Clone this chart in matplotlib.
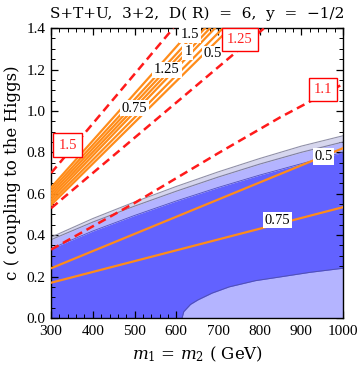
import matplotlib

matplotlib.use("Agg")

import matplotlib.pyplot as plt
from matplotlib.ticker import MultipleLocator

plt.rcParams["font.family"] = ["Liberation Serif", "DejaVu Serif"]
plt.rcParams["mathtext.fontset"] = "dejavuserif"

# allowed-region bands (m in GeV, c)
band_m = [300, 400, 500, 600, 700, 800, 900, 1000]
band_outer = [0.39, 0.48, 0.56, 0.635, 0.705, 0.77, 0.83, 0.88]
band_mid = [0.378, 0.463, 0.54, 0.612, 0.68, 0.743, 0.80, 0.85]
band_dark = [0.335, 0.42, 0.495, 0.565, 0.63, 0.69, 0.745, 0.80]

# light region at bottom right
corner_c = [0.0, 0.03, 0.065, 0.087, 0.12, 0.15, 0.18, 0.198, 0.22, 0.24]
corner_m = [614, 618, 634, 652, 686, 727, 790, 849, 920, 1000]

# red dashed contours
red_levels = ["1.5", "1.25", "1.1"]
red_m = [[300, 593], [300, 741, 811], [300, 500, 700, 850, 1000]]
red_c = [[0.70, 1.40], [0.53, 1.28, 1.40], [0.33, 0.555, 0.795, 0.97, 1.13]]
red_label_pos = [(340, 0.835), (752, 1.345), (952, 1.105)]

# orange contour bundle
orange_c0 = [0.63, 0.616, 0.602, 0.588, 0.574, 0.56, 0.546]
orange_mtop = [640, 657, 669, 681, 693, 712, 729]
orange_labels = ["1.5", "0.75", "1.25", "1", "0.5"]
orange_label_pos = [(633, 1.367), (499, 1.014), (578, 1.198), (628, 1.285), (688, 1.275)]

# orange contours in the blue region
low_m = [300, 1000]
low_c = [[0.24, 0.82], [0.17, 0.535]]
low_labels = ["0.5", "0.75"]
low_label_pos = [(953, 0.78), (842, 0.473)]

fig = plt.figure(figsize=(3.6, 3.65), dpi=100)
ax = fig.add_axes([0.142, 0.129, 0.811, 0.794])

orange = "#ff8c1a"
ax.fill_between(band_m, band_mid, band_outer, color="#d6d6ee", lw=0, zorder=1)
ax.fill_between(band_m, band_dark, band_mid, color="#b4b4ff", lw=0, zorder=1)
ax.fill_between(band_m, 0, band_dark, color="#6262ff", lw=0, zorder=1)
ax.plot(band_m, band_outer, color="#9090a8", lw=0.8, zorder=2)
ax.plot(band_m, band_mid, color="#8080a0", lw=0.8, zorder=2)
ax.plot(band_m, band_dark, color="#5050c0", lw=0.6, zorder=2)

ax.fill_betweenx(corner_c, corner_m, 1000, color="#b4b4ff", lw=0, zorder=2)
ax.plot(corner_m, corner_c, color="#5050b0", lw=0.7, zorder=2)

for c0, mt in zip(orange_c0, orange_mtop):
    ax.plot([300, mt], [c0, 1.4], color=orange, lw=1.6, zorder=3)
for cs in low_c:
    ax.plot(low_m, cs, color=orange, lw=1.6, zorder=3)

for ms, cs in zip(red_m, red_c):
    ax.plot(ms, cs, color="#ff1a1a", lw=1.8, dashes=(3.4, 2.0), zorder=4)

for lab, (xm, yc) in zip(orange_labels + low_labels, orange_label_pos + low_label_pos):
    ax.text(xm, yc, lab, ha="center", va="center", fontsize=10.5, zorder=5,
            bbox={"boxstyle": "square,pad=0.12", "facecolor": "white", "edgecolor": "none"})
for lab, (xm, yc) in zip(red_levels, red_label_pos):
    ax.text(xm, yc, lab, ha="center", va="center", fontsize=10.5, color="#ff2020", zorder=6,
            bbox={"boxstyle": "square,pad=0.35", "facecolor": "white", "edgecolor": "#ff0000",
                  "linewidth": 1.0})

ax.set_xlim(300, 1000)
ax.set_ylim(0, 1.4)
ax.xaxis.set_major_locator(MultipleLocator(100))
ax.xaxis.set_minor_locator(MultipleLocator(20))
ax.yaxis.set_major_locator(MultipleLocator(0.2))
ax.yaxis.set_minor_locator(MultipleLocator(0.05))
ax.yaxis.set_major_formatter(lambda v, p: f"{v:.1f}")
ax.tick_params(which="both", direction="in", top=True, right=True, labelsize=11)
ax.tick_params(axis="x", pad=5)
ax.tick_params(axis="y", pad=4)
ax.tick_params(which="major", length=5, width=0.9)
ax.tick_params(which="minor", length=3, width=0.7)
for s in ax.spines.values():
    s.set_linewidth(1.0)

ax.set_title("S+T+U,  3+2,  D( R)  =  6,  y  =  \u22121/2", fontsize=11,
             family="DejaVu Serif", pad=7)
ax.set_xlabel("$m_1$ = $m_2$ ( GeV)", fontsize=12, family="DejaVu Serif", labelpad=5)
ax.set_ylabel("c ( coupling to the Higgs)", fontsize=12, family="DejaVu Serif", labelpad=4)

fig.savefig("out.png", dpi=100)
